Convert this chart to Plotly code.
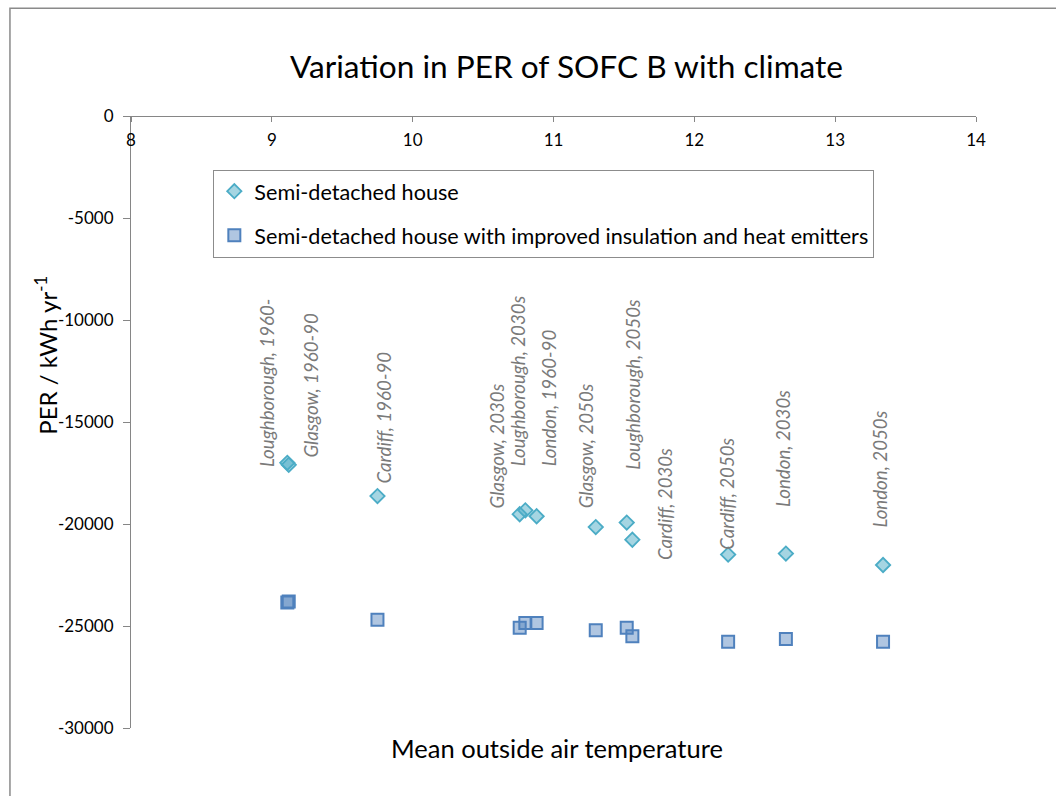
import plotly.graph_objects as go

# ---- data ----
locations = ["Loughborough, 1960-", "Glasgow, 1960-90", "Cardiff, 1960-90",
             "Glasgow, 2030s", "Loughborough, 2030s", "London, 1960-90",
             "Glasgow, 2050s", "Loughborough, 2050s", "Cardiff, 2030s",
             "Cardiff, 2050s", "London, 2030s", "London, 2050s"]
mean_temp = [9.12, 9.11, 9.75, 10.76, 10.80, 10.88, 11.30, 11.52, 11.56, 12.24, 12.65, 13.34]
per_semi = [-17100, -17000, -18630, -19520, -19330, -19620, -20150, -19930, -20770,
            -21500, -21450, -22010]
per_improved = [-23800, -23850, -24690, -25080, -24850, -24850, -25210, -25080, -25500,
                -25770, -25640, -25770]
series_names = ["Semi-detached house",
                "Semi-detached house with improved insulation and heat emitters"]
x_ticks = [8, 9, 10, 11, 12, 13, 14]
y_ticks = [0, -5000, -10000, -15000, -20000, -25000, -30000]
y_tick_text = ["0", "-5000", "-10000", "-15000", "-20000", "-25000", "-30000"]

# label offsets (pixels) relative to the diamond markers
label_dx = [-21, 24, 7, -23, -8, 12, -10, 6, 32, -2, -3, -4]
label_dy = [-4, 3, 11, 4, 42, 48, 17, 51, -22, 3, 45, 35]

FONT = "Lato"
W, H = 1056, 796
L, R, T, B = 131, 975.7, 115.7, 727.7


def px_x(p):
    return (p - L) / (R - L)


def px_y(p):
    return (B - p) / (B - T)


fig = go.Figure()
fig.add_trace(go.Scatter(
    x=mean_temp, y=per_semi, mode="markers", name=series_names[0],
    legendgroup="a",
    marker=dict(symbol="diamond", size=11, color="rgba(75,172,198,0.5)",
                line=dict(color="#4bacc6", width=1.8)),
))
fig.add_trace(go.Scatter(
    x=mean_temp, y=per_improved, mode="markers", name=series_names[1],
    legendgroup="b",
    marker=dict(symbol="square", size=12, color="rgba(79,129,189,0.45)",
                line=dict(color="#4f81bd", width=2)),
))

annotations = []
for name, xv, yv, dx, dy in zip(locations, mean_temp, per_semi, label_dx, label_dy):
    annotations.append(dict(
        x=xv, y=yv, xref="x", yref="y", text=name, showarrow=False,
        textangle=-90, xanchor="center", yanchor="bottom",
        xshift=dx, yshift=dy,
        font=dict(family=FONT, size=18.7, color="#7a7a7a", style="italic"),
    ))

# axis titles
annotations.append(dict(
    x=px_x(556.5), y=px_y(748), xref="paper", yref="paper",
    text="Mean outside air temperature", showarrow=False,
    xanchor="center", yanchor="middle",
    font=dict(family=FONT, size=25.5, color="#000000"),
))
annotations.append(dict(
    x=px_x(46.5), y=px_y(355), xref="paper", yref="paper",
    text="PER / kWh yr<sup>-1</sup>", showarrow=False, textangle=-90,
    xanchor="center", yanchor="middle",
    font=dict(family=FONT, size=24, color="#000000"),
))

fig.update_layout(
    width=W, height=H,
    margin=dict(l=L, r=W - R, t=T, b=H - B, pad=0),
    paper_bgcolor="white", plot_bgcolor="white",
    font=dict(family=FONT, color="#000000"),
    title=dict(text="Variation in PER of SOFC B with climate",
               x=566.5 / W, xanchor="center", xref="container",
               y=1 - 67 / H, yanchor="middle", yref="container",
               font=dict(family=FONT, size=31.6, color="#000000")),
    showlegend=True,
    legend=dict(x=px_x(213.3), y=px_y(169.3),
                xanchor="left", yanchor="top",
                bordercolor="#8c8c8c", borderwidth=1, bgcolor="white",
                font=dict(family=FONT, size=21.6, color="#000000"),
                tracegroupgap=13, traceorder="grouped"),
    xaxis=dict(range=[8, 14], tickvals=x_ticks, ticktext=[str(v) for v in x_ticks],
               side="bottom", anchor="free", position=1,
               ticks="outside", ticklen=5, tickcolor="#868686",
               ticklabelstandoff=3,
               showline=True, linecolor="#868686", linewidth=1.2,
               showgrid=False, zeroline=False,
               tickfont=dict(family=FONT, size=17, color="#000000")),
    yaxis=dict(range=[-30000, 0], tickvals=y_ticks, ticktext=y_tick_text,
               ticks="outside", ticklen=7, tickcolor="#868686",
               ticklabelstandoff=6,
               showline=True, linecolor="#868686", linewidth=1.2,
               showgrid=False, zeroline=False,
               tickfont=dict(family=FONT, size=17, color="#000000")),
    annotations=annotations,
    shapes=[dict(type="rect", xref="paper", yref="paper",
                 x0=px_x(10), x1=1.3,
                 y0=-0.3, y1=px_y(8),
                 line=dict(color="#8a8a8a", width=1.5), layer="below")],
)

fig.write_html("out.html",
               config={"displayModeBar": False},
               post_script="document.body.style.margin='0px';")
